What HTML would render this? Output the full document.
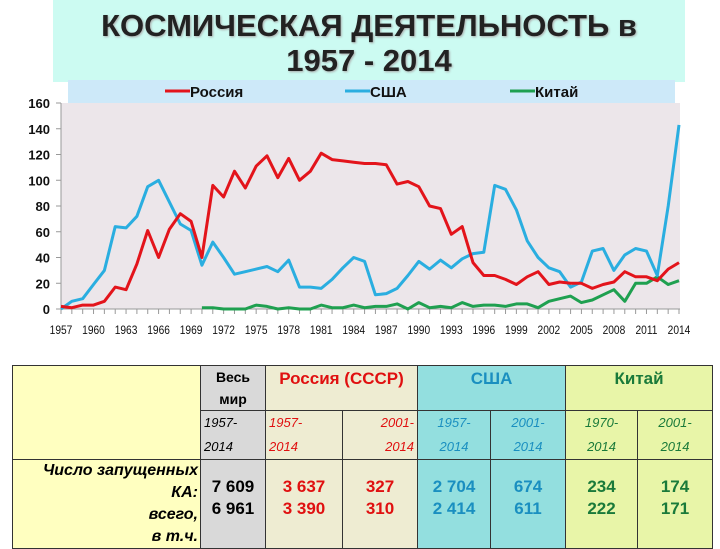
<!DOCTYPE html>
<html><head><meta charset="utf-8"><style>
body{margin:0;width:720px;height:537px;overflow:hidden;background:#fff;font-family:"Liberation Sans","DejaVu Sans",sans-serif;position:relative}
#title{position:absolute;left:53px;top:0;width:632px;height:82px;background:#ccfbf2;text-align:center;font-weight:bold;font-size:31px;line-height:35px;color:#222;text-shadow:1px 1px 2px #aaa}
table{position:absolute;left:12px;top:365px;width:700px;border-collapse:collapse;table-layout:fixed;font-size:16px}
td{border:1px solid #333;padding:0 3px;text-align:center;vertical-align:top;overflow:hidden;white-space:nowrap}
.i{font-style:italic;font-size:13px;line-height:24px}
.n{font-weight:bold;font-size:17px;line-height:22px;vertical-align:top;padding-top:16px}
.h{font-weight:bold;font-size:17px;padding-top:3px}
</style></head><body>
<div id="title"><div style="padding-top:8px">КОСМИЧЕСКАЯ ДЕЯТЕЛЬНОСТЬ в</div><div>1957 - 2014</div></div>
<svg id="chart" width="720" height="350" style="position:absolute;left:0;top:0"></svg>
<table>
<colgroup><col style="width:188px"><col style="width:65px"><col style="width:77px"><col style="width:75px"><col style="width:73px"><col style="width:75px"><col style="width:72px"><col style="width:75px"></colgroup>
<tr style="height:45px">
<td rowspan="2" style="background:#ffffc0"></td>
<td style="background:#d9d9d9;line-height:22px;font-size:14px;font-weight:bold">Весь<br>мир</td>
<td colspan="2" class="h" style="background:#eeecd2;color:#e01010">Россия (СССР)</td>
<td colspan="2" class="h" style="background:#93dfdf;color:#1a8fc0">США</td>
<td colspan="2" class="h" style="background:#e8f5a8;color:#1a7a3a">Китай</td></tr>
<tr style="height:48px">
<td class="i" style="background:#d9d9d9;text-align:left">1957-<br>2014</td>
<td class="i" style="background:#eeecd2;color:#e01010;text-align:left">1957-<br>2014</td>
<td class="i" style="background:#eeecd2;color:#e01010;text-align:right">2001-<br>2014</td>
<td class="i" style="background:#93dfdf;color:#1a8fc0">1957-<br>2014</td>
<td class="i" style="background:#93dfdf;color:#1a8fc0">2001-<br>2014</td>
<td class="i" style="background:#e8f5a8;color:#1a7a3a">1970-<br>2014</td>
<td class="i" style="background:#e8f5a8;color:#1a7a3a">2001-<br>2014</td></tr>
<tr style="height:80px">
<td style="background:#ffffc0;text-align:right;font-style:italic;font-weight:bold;font-size:16px;line-height:22px;padding:0 2px">Число запущенных<br>КА:<br>всего,<br>в т.ч.</td>
<td class="n" style="background:#d9d9d9">7 609<br>6 961</td>
<td class="n" style="background:#eeecd2;color:#e01010">3 637<br>3 390</td>
<td class="n" style="background:#eeecd2;color:#e01010">327<br>310</td>
<td class="n" style="background:#93dfdf;color:#1a8fc0">2 704<br>2 414</td>
<td class="n" style="background:#93dfdf;color:#1a8fc0">674<br>611</td>
<td class="n" style="background:#e8f5a8;color:#1a7a3a">234<br>222</td>
<td class="n" style="background:#e8f5a8;color:#1a7a3a">174<br>171</td></tr>
</table>
<script>
const russia=[2,1,3,3,6,17,15,35,61,40,62,74,68,40,96,87,107,94,111,119,102,117,100,107,121,116,115,114,113,113,112,97,99,95,80,78,58,64,36,26,26,23,19,25,29,19,21,20,20,16,19,21,29,25,25,22,31,36];
const usa=[0,6,8,19,30,64,63,72,95,100,83,66,61,34,52,40,27,29,31,33,29,38,17,17,16,23,32,40,37,11,12,16,26,37,31,38,32,39,43,44,96,93,77,53,40,32,29,17,21,45,47,30,42,47,45,26,80,143];
const china=[1,1,0,0,0,3,2,0,1,0,0,3,1,1,3,1,2,2,4,0,5,1,2,1,5,2,3,3,2,4,4,1,6,8,10,5,7,11,15,6,20,20,25,19,22];
const yTicks=[0,20,40,60,80,100,120,140,160];
const NS='http://www.w3.org/2000/svg';
const svg=document.getElementById('chart');
const X=y=>61+(y-1957)*(618/57), Y=v=>309-v*1.2875;
function mk(t,a){const e=document.createElementNS(NS,t);for(const k in a)e.setAttribute(k,a[k]);svg.appendChild(e);return e;}
let bg=mk('rect',{x:61,y:103,width:619,height:206,fill:'#ece6ea'});


let lg=mk('rect',{x:68,y:80,width:607,height:23,fill:'#cde9f9'});


[['Россия','#e3141b',165],['США','#2aaee0',345],['Китай','#1fa050',510]].forEach(([n,c,x])=>{
 let l=mk('line',{x1:x,y1:91,x2:x+25,y2:91,stroke:c,'stroke-width':3});
 
 
 let t=mk('text',{x:x+25,y:97,'font-size':15,'font-weight':'bold',fill:'#111'});t.textContent=n;
 
 
});
mk('line',{x1:61,y1:103,x2:61,y2:309,stroke:'#999'});
mk('line',{x1:61,y1:309,x2:680,y2:309,stroke:'#999'});
yTicks.forEach(v=>{let t=mk('text',{x:50,y:Y(v)+5,'font-size':13,'font-weight':'bold','text-anchor':'end',fill:'#111'});t.textContent=v;
 
 
 mk('line',{x1:56,y1:Y(v),x2:61,y2:Y(v),stroke:'#999'});});
for(let y=1957;y<=2014;y++){mk('line',{x1:X(y),y1:309,x2:X(y),y2:314,stroke:'#999'});
 if((y-1957)%3==0){let t=mk('text',{x:X(y),y:334,'font-size':12,'text-anchor':'middle',fill:'#111',transform:`scale(0.85,1) translate(${X(y)/0.85-X(y)},0)`});t.textContent=y;
 
 }}
function line(d,s,c,n){let p=d.map((v,i)=>X(s+i).toFixed(1)+','+Y(v).toFixed(1)).join(' ');
 let e=mk('polyline',{points:p,fill:'none',stroke:c,'stroke-width':3,'stroke-linejoin':'round'});
 
 }
line(china,1970,'#1fa050','series-china');
line(usa,1957,'#2aaee0','series-usa');
line(russia,1957,'#e3141b','series-russia');
</script>
</body></html>
